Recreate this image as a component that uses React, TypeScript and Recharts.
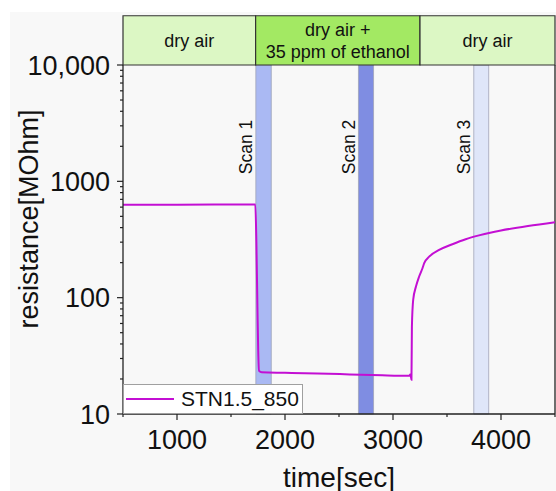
import { LineChart, Line, XAxis, YAxis, ReferenceArea, ReferenceLine, Label } from 'recharts';

// sensor response
const timeSec = [500, 1000, 1500, 1725, 1735, 1745, 1752, 1760, 1785, 2000, 2300, 2600, 2900, 3150, 3160, 3165, 3171, 3175, 3187, 3212, 3242, 3273, 3289, 3335, 3427, 3550, 3673, 3796, 3900, 4000, 4250, 4500];
const resistance = [630, 630, 632, 633, 300, 80, 35, 23.5, 22.8, 22.6, 22.3, 21.9, 21.5, 21.3, 21.9, 21.2, 19.7, 56, 96, 124, 152, 179, 198, 225, 257, 288, 318, 343, 362, 378, 413, 445];

// gas phases shown in the header strip
const phaseLabels = [['dry air'], ['dry air +', '35 ppm of ethanol'], ['dry air']];
const phaseStart = [500, 1728, 3250];
const phaseEnd = [1728, 3250, 4500];
const phaseHeaderTop = 26500; // resistance value where the header strip ends

// scan windows
const scanLabels = ['Scan 1', 'Scan 2', 'Scan 3'];
const scanStart = [1730, 2680, 3748];
const scanEnd = [1873, 2820, 3886];

const xTicks = [500, 1000, 1500, 2000, 2500, 3000, 3500, 4000, 4500];
const xMajor = [1000, 2000, 3000, 4000];
const yMajor = [10, 100, 1000, 10000];
const yMajorLabels = ['10', '100', '1000', '10,000'];
const yTicks = [10, 20, 30, 40, 50, 60, 70, 80, 90, 100, 200, 300, 400, 500, 600, 700, 800, 900, 1000, 2000, 3000, 4000, 5000, 6000, 7000, 8000, 9000, 10000];

const data = timeSec.map((t, i) => ({ t, r: resistance[i] }));

const FONT = '"Liberation Sans", Arial, sans-serif';
const INK = '#222';
const LINE_COLOR = '#c30fd3';
const phaseFill = ['#dcf7c4', '#a3e963', '#dcf7c4'];
const scanFill = ['#aab9f3', '#7f8de2', '#dfe6f9'];

const XTick = ({ x, y, payload }: any) => {
  const major = xMajor.includes(payload.value);
  return (
    <g>
      <line x1={x} x2={x} y1={y} y2={y + (major ? 6 : 3)} stroke={INK} strokeWidth={1.2} />
      {major && (
        <text x={x} y={y + 35} textAnchor="middle" fontSize={27} fontFamily={FONT} fill="#111">
          {payload.value}
        </text>
      )}
    </g>
  );
};

const YTick = ({ x, y, payload }: any) => {
  const idx = yMajor.indexOf(payload.value);
  const major = idx >= 0;
  return (
    <g>
      <line x1={x} x2={x - (major ? 6 : 3)} y1={y} y2={y} stroke={INK} strokeWidth={1.2} />
      {major && (
        <text x={x - 13} y={y} dy="0.36em" textAnchor="end" fontSize={27} fontFamily={FONT} fill="#111">
          {yMajorLabels[idx]}
        </text>
      )}
    </g>
  );
};

const phaseLabel = (lines: string[]) => (props: any) => {
  const { x, y, width, height } = props.viewBox;
  const cx = x + width / 2;
  const cy = y + height / 2;
  const gap = 21.5;
  return (
    <text textAnchor="middle" fontSize={18} fontFamily={FONT} fill="#111">
      {lines.map((l, i) => (
        <tspan key={i} x={cx} y={cy + (i - (lines.length - 1) / 2) * gap} dy="0.36em">
          {l}
        </tspan>
      ))}
    </text>
  );
};

const scanLabel = (text: string) => (props: any) => {
  const { x } = props.viewBox;
  const cx = x - 10;
  const cy = 147;
  return (
    <text
      x={cx}
      y={cy}
      dy="0.36em"
      textAnchor="middle"
      fontSize={17.5}
      fontFamily={FONT}
      fill="#111"
      transform={`rotate(-90, ${cx}, ${cy})`}
    >
      {text}
    </text>
  );
};

export default function App() {
  return (
    <div style={{ position: 'absolute', left: 0, top: 0, width: 556, height: 491, background: '#fff', fontFamily: FONT }}>
      <div style={{ position: 'absolute', left: 10, top: 12, right: 0, bottom: 0, background: '#f8f8f8' }} />
      <div style={{ position: 'absolute', left: 0, top: 0 }}>
        <LineChart width={556} height={491} data={data} margin={{ top: 65, right: 1, bottom: 37, left: 63 }}>
          <XAxis
            dataKey="t"
            type="number"
            domain={[500, 4500]}
            ticks={xTicks}
            interval={0}
            tickSize={0}
            tickMargin={0}
            tick={<XTick />}
            height={40}
            axisLine={{ stroke: INK, strokeWidth: 1.3 }}
            tickLine={false}
          >
            <Label
              content={() => (
                <text x={339} y={486.5} textAnchor="middle" fontSize={28} fontFamily={FONT} fill="#111">
                  time[sec]
                </text>
              )}
            />
          </XAxis>
          <YAxis
            scale="log"
            domain={[10, 10000]}
            ticks={yTicks}
            interval={0}
            allowDataOverflow
            tickSize={0}
            tickMargin={0}
            tick={<YTick />}
            width={60}
            axisLine={{ stroke: INK, strokeWidth: 1.3 }}
            tickLine={false}
          >
            <Label
              content={() => (
                <text
                  x={28}
                  y={219}
                  dy="0.36em"
                  textAnchor="middle"
                  fontSize={27}
                  fontFamily={FONT}
                  fill="#111"
                  transform="rotate(-90, 28, 219)"
                >
                  resistance[MOhm]
                </text>
              )}
            />
          </YAxis>

          {scanLabels.map((s, i) => (
            <ReferenceArea
              key={s}
              x1={scanStart[i]}
              x2={scanEnd[i]}
              fill={scanFill[i]}
              fillOpacity={1}
              stroke="#9fa3b8"
              strokeWidth={0.8}
              label={scanLabel(s)}
            />
          ))}

          {phaseLabels.map((p, i) => (
            <ReferenceArea
              key={i}
              x1={phaseStart[i]}
              x2={phaseEnd[i]}
              y1={10000}
              y2={phaseHeaderTop}
              ifOverflow="visible"
              fill={phaseFill[i]}
              fillOpacity={1}
              stroke="#333"
              strokeWidth={1.2}
              label={phaseLabel(p)}
            />
          ))}

          <ReferenceLine x={4500} stroke={INK} strokeWidth={1.3} />

          <Line
            dataKey="r"
            type="monotone"
            stroke={LINE_COLOR}
            strokeWidth={2}
            dot={false}
            isAnimationActive={false}
          />
        </LineChart>
      </div>
      <div
        style={{
          position: 'absolute',
          left: 123,
          top: 384,
          width: 180,
          height: 30,
          boxSizing: 'border-box',
          background: '#fff',
          border: '1px solid #a0a0a0',
        }}
      >
        <div style={{ position: 'absolute', left: 2, top: 13, width: 48, height: 2, background: LINE_COLOR }} />
        <div style={{ position: 'absolute', left: 57, top: 2, fontSize: 21, lineHeight: '24px', color: '#111', whiteSpace: 'nowrap' }}>
          STN1.5_850
        </div>
      </div>
    </div>
  );
}
